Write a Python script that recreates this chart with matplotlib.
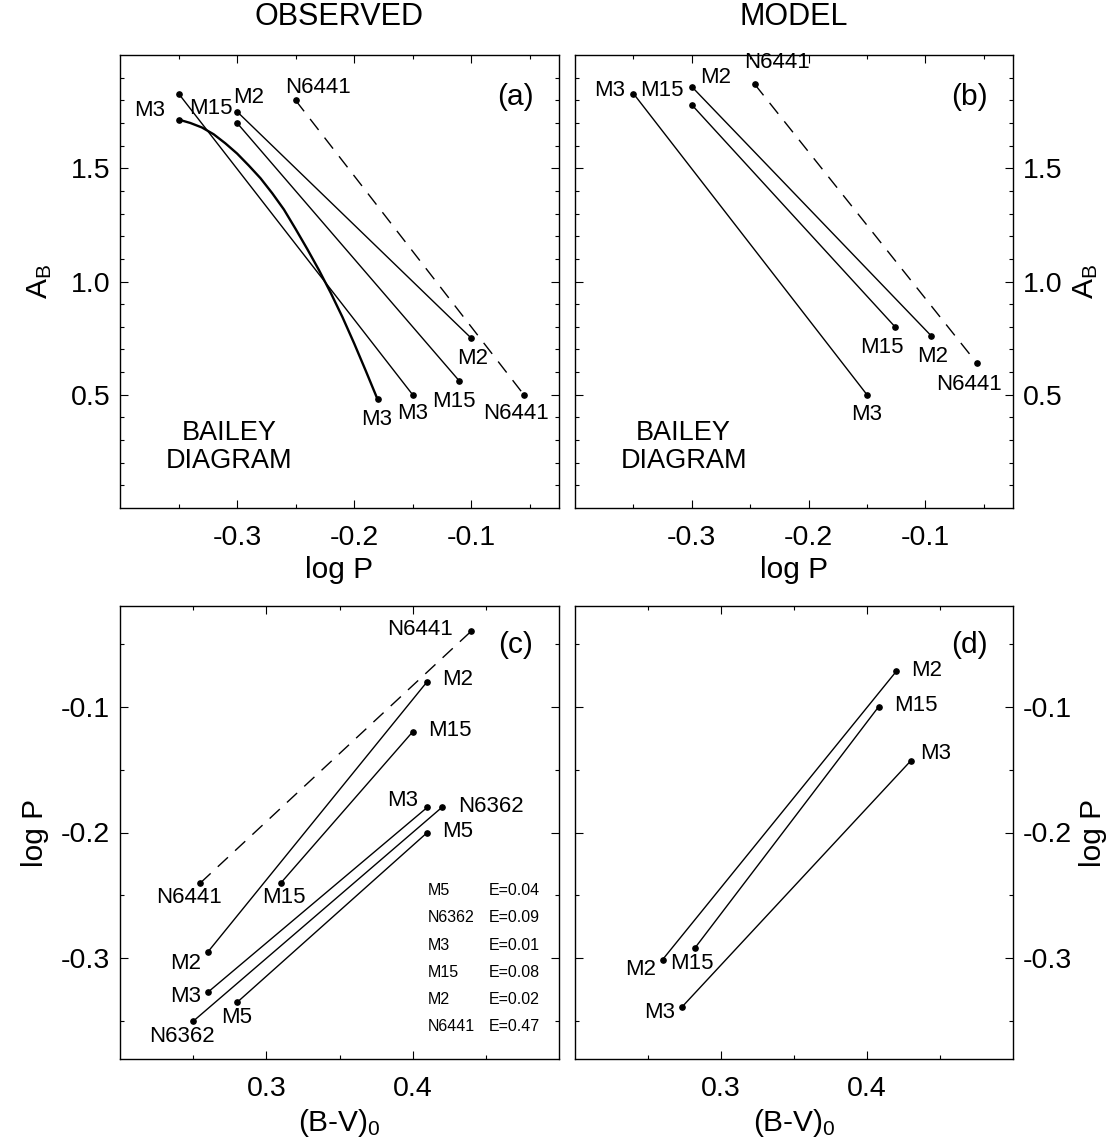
import numpy as np
import matplotlib
matplotlib.use('Agg')
import matplotlib.pyplot as plt
from matplotlib.ticker import FixedLocator, FormatStrFormatter

plt.rcParams['font.family'] = ['Liberation Sans', 'DejaVu Sans']
plt.rcParams['mathtext.default'] = 'regular'
plt.rcParams['axes.unicode_minus'] = False

# ---- panel (a): observed Bailey diagram
a_names = ['M3', 'M2', 'M15', 'N6441']
a_logp_start = [-0.35, -0.30, -0.30, -0.25]
a_amp_start = [1.83, 1.75, 1.70, 1.80]
a_logp_end = [-0.15, -0.10, -0.11, -0.055]
a_amp_end = [0.50, 0.75, 0.56, 0.50]
a_dashed = [False, False, False, True]
# M3 curved relation
m3_curve_logp = [-0.350, -0.340, -0.330, -0.320, -0.310, -0.300, -0.290,
                 -0.280, -0.270, -0.260, -0.250, -0.240, -0.230, -0.220,
                 -0.210, -0.200, -0.190, -0.180]
m3_curve_amp = [1.715, 1.700, 1.680, 1.650, 1.610, 1.565, 1.512,
                1.456, 1.390, 1.318, 1.232, 1.143, 1.050, 0.950,
                0.843, 0.727, 0.605, 0.480]

# ---- panel (b): model Bailey diagram
b_names = ['M3', 'M2', 'M15', 'N6441']
b_logp_start = [-0.35, -0.30, -0.30, -0.246]
b_amp_start = [1.83, 1.86, 1.78, 1.87]
b_logp_end = [-0.15, -0.095, -0.126, -0.056]
b_amp_end = [0.50, 0.76, 0.80, 0.64]
b_dashed = [False, False, False, True]

# ---- panel (c): observed log P vs (B-V)0
c_names = ['N6441', 'M2', 'M15', 'M3', 'N6362', 'M5']
c_bv_lo = [0.255, 0.26, 0.31, 0.26, 0.25, 0.28]
c_logp_lo = [-0.24, -0.295, -0.24, -0.327, -0.35, -0.335]
c_bv_hi = [0.44, 0.41, 0.40, 0.41, 0.42, 0.41]
c_logp_hi = [-0.04, -0.08, -0.12, -0.18, -0.18, -0.20]
c_dashed = [True, False, False, False, False, False]
table_names = ['M5', 'N6362', 'M3', 'M15', 'M2', 'N6441']
table_ebv = [0.04, 0.09, 0.01, 0.08, 0.02, 0.47]

# ---- panel (d): model log P vs (B-V)0
d_names = ['M2', 'M15', 'M3']
d_bv_lo = [0.26, 0.282, 0.273]
d_logp_lo = [-0.301, -0.292, -0.339]
d_bv_hi = [0.42, 0.408, 0.43]
d_logp_hi = [-0.072, -0.10, -0.143]
d_dashed = [False, False, False]

# label offsets in pixels (start/low end, end/high end)
a_off0 = [(-29, -17), (12, 14), (-26, 14), (22, 13)]
a_off1 = [(0, -19), (1, -20), (-6, -20), (-8, -19)]
b_off0 = [(-24, 3), (24, 9), (-30, 14), (22, 22)]
b_off1 = [(0, -20), (1, -21), (-13, -21), (-8, -21)]
c_off0 = [(-11, -15), (-22, -11), (3, -15), (-22, -4), (-11, -15), (0, -15)]
c_off1 = [(-51, 2), (30, 2), (37, 1), (-25, 7), (49, 1), (30, 1)]
d_off0 = [(-22, -10), (-3, -15), (-22, -5)]
d_off1 = [(30, 1), (37, 1), (25, 7)]

W, H = 1117, 1142
fig = plt.figure(figsize=(W / 100, H / 100), dpi=100)


def rect(l, t, w, h):
    return [l / W, 1 - (t + h) / H, w / W, h / H]


ax_a = fig.add_axes(rect(120, 55, 439, 453))
ax_b = fig.add_axes(rect(575, 55, 438, 453))
ax_c = fig.add_axes(rect(120, 606, 439, 453))
ax_d = fig.add_axes(rect(575, 606, 438, 453))


def style_axes(ax, right=False):
    for s in ax.spines.values():
        s.set_linewidth(1.0)
    ax.tick_params(which='both', direction='in', top=True, right=True,
                   width=0.8, labelsize=20.5)
    ax.tick_params(which='major', length=6)
    ax.tick_params(which='minor', length=3)
    ax.tick_params(axis='x', pad=12)
    ax.tick_params(axis='y', pad=7)
    ax.xaxis.set_major_formatter(FormatStrFormatter('%.1f'))
    ax.yaxis.set_major_formatter(FormatStrFormatter('%.1f'))
    if right:
        ax.tick_params(labelleft=False, labelright=True)
        ax.yaxis.set_label_position('right')


def draw_lines(ax, x0, y0, x1, y1, dashed):
    for i in range(len(x0)):
        ax.plot([x0[i], x1[i]], [y0[i], y1[i]], color='k', lw=1.0,
                dashes=(10, 7) if dashed[i] else (None, None),
                marker='o', ms=3.8, mfc='k', mec='k')


def draw_labels(ax, names, xs, ys, offs):
    for n, x, y, (dx, dy) in zip(names, xs, ys, offs):
        ax.annotate(n, xy=(x, y), xytext=(dx, dy), textcoords='offset pixels',
                    ha='center', va='center', fontsize=16)


# (a)
draw_lines(ax_a, a_logp_start, a_amp_start, a_logp_end, a_amp_end, a_dashed)
ax_a.plot(m3_curve_logp, m3_curve_amp, color='k', lw=1.7,
          solid_joinstyle='round')
ax_a.plot([m3_curve_logp[0], m3_curve_logp[-1]], [m3_curve_amp[0], m3_curve_amp[-1]],
          'o', color='k', ms=3.8)
draw_labels(ax_a, a_names, a_logp_start, a_amp_start, a_off0)
draw_labels(ax_a, a_names, a_logp_end, a_amp_end, a_off1)
draw_labels(ax_a, ['M3'], [m3_curve_logp[-1]], [m3_curve_amp[-1]], [(-1, -20)])

# (b)
draw_lines(ax_b, b_logp_start, b_amp_start, b_logp_end, b_amp_end, b_dashed)
draw_labels(ax_b, b_names, b_logp_start, b_amp_start, b_off0)
draw_labels(ax_b, b_names, b_logp_end, b_amp_end, b_off1)

for ax, tag, right in [(ax_a, '(a)', False), (ax_b, '(b)', True)]:
    style_axes(ax, right)
    ax.set_xlim(-0.4, -0.025)
    ax.set_ylim(0.0, 2.0)
    ax.xaxis.set_major_locator(FixedLocator([-0.3, -0.2, -0.1]))
    ax.xaxis.set_minor_locator(FixedLocator([-0.35, -0.25, -0.15, -0.05]))
    ax.yaxis.set_major_locator(FixedLocator([0.5, 1.0, 1.5]))
    ax.yaxis.set_minor_locator(FixedLocator(np.arange(0.1, 2.0, 0.1)))
    ax.set_xlabel('log P', fontsize=21.5, labelpad=4)
    ax.set_ylabel('A$_B$', fontsize=21.5, labelpad=6 if right else 12)
    ax.text(0.90, 0.908, tag, transform=ax.transAxes, ha='center', va='center',
            fontsize=21.5)
    ax.text(0.248, 0.134, 'BAILEY\nDIAGRAM', transform=ax.transAxes,
            ha='center', va='center', fontsize=19.5, linespacing=1.1)

# (c)
draw_lines(ax_c, c_bv_lo, c_logp_lo, c_bv_hi, c_logp_hi, c_dashed)
draw_labels(ax_c, c_names, c_bv_lo, c_logp_lo, c_off0)
draw_labels(ax_c, c_names, c_bv_hi, c_logp_hi, c_off1)
for i, (n, e) in enumerate(zip(table_names, table_ebv)):
    yy = 0.3716 - i * 0.0601
    ax_c.text(0.701, yy, n, transform=ax_c.transAxes, ha='left', va='center',
              fontsize=11.5)
    ax_c.text(0.841, yy, 'E=%.2f' % e, transform=ax_c.transAxes, ha='left',
              va='center', fontsize=11.5)

# (d)
draw_lines(ax_d, d_bv_lo, d_logp_lo, d_bv_hi, d_logp_hi, d_dashed)
draw_labels(ax_d, d_names, d_bv_lo, d_logp_lo, d_off0)
draw_labels(ax_d, d_names, d_bv_hi, d_logp_hi, d_off1)

for ax, tag, right in [(ax_c, '(c)', False), (ax_d, '(d)', True)]:
    style_axes(ax, right)
    ax.set_xlim(0.2, 0.5)
    ax.set_ylim(-0.38, -0.02)
    ax.xaxis.set_major_locator(FixedLocator([0.3, 0.4]))
    ax.xaxis.set_minor_locator(FixedLocator([0.25, 0.35, 0.45]))
    ax.yaxis.set_major_locator(FixedLocator([-0.3, -0.2, -0.1]))
    ax.yaxis.set_minor_locator(FixedLocator([-0.35, -0.25, -0.15, -0.05]))
    ax.set_xlabel('(B-V)$_0$', fontsize=21.5, labelpad=4)
    ax.set_ylabel('log P', fontsize=21.5, labelpad=5 if right else 9)
    ax.text(0.90, 0.915, tag, transform=ax.transAxes, ha='center', va='center',
            fontsize=21.5)

fig.text(339.5 / W, 1 - 17 / H, 'OBSERVED', ha='center', va='center', fontsize=22)
fig.text(794 / W, 1 - 17 / H, 'MODEL', ha='center', va='center', fontsize=22)

fig.savefig('out.png', dpi=100)
